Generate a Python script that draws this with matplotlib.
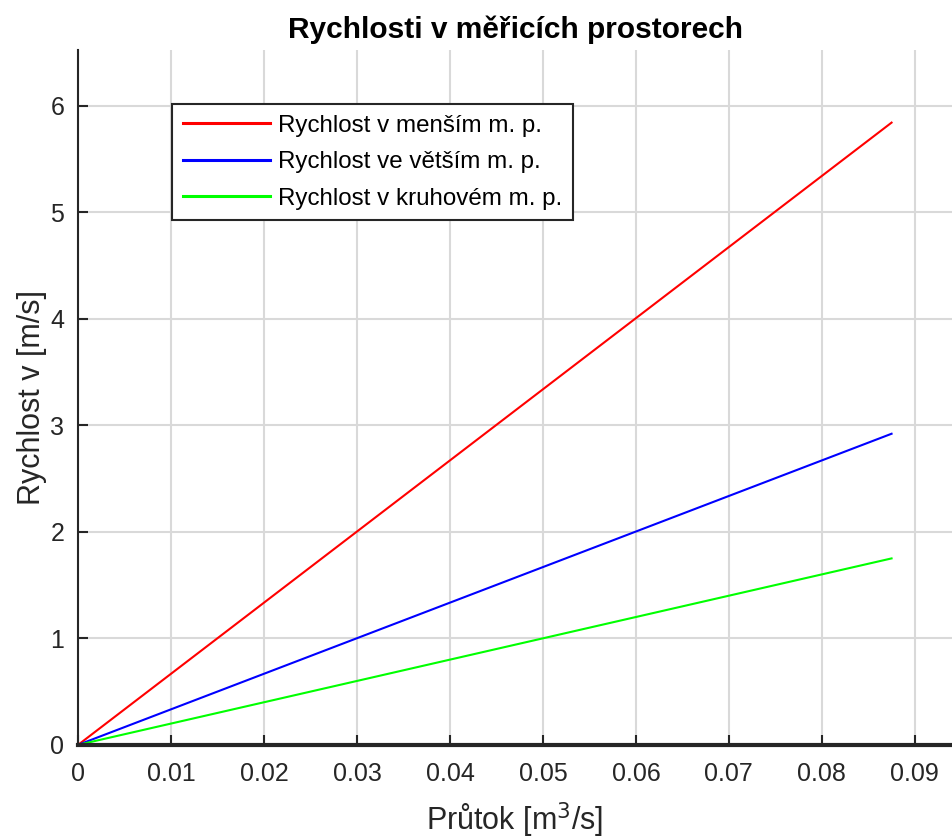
import matplotlib
matplotlib.use("Agg")
from matplotlib import pyplot as plt
import numpy as np

# data
prutok = [0.0, 0.0875]
v_mensi = [0.0, 5.84]
v_vetsi = [0.0, 2.92]
v_kruhovy = [0.0, 1.75]

labels = ['Rychlost v menším m. p.', 'Rychlost ve větším m. p.', 'Rychlost v kruhovém m. p.']
x_ticks = [0, 0.01, 0.02, 0.03, 0.04, 0.05, 0.06, 0.07, 0.08, 0.09]
y_ticks = [0, 1, 2, 3, 4, 5, 6]

plt.rcParams['font.family'] = ['Liberation Sans', 'DejaVu Sans']

fig = plt.figure(figsize=(9.52, 8.36), dpi=100)
ax = fig.add_axes([0.082, 0.109, 0.918, 0.831])

ax.plot(prutok, v_mensi, color=(1, 0, 0), lw=1.5, label=labels[0])
ax.plot(prutok, v_vetsi, color=(0, 0, 1), lw=1.5, label=labels[1])
ax.plot(prutok, v_kruhovy, color=(0, 1, 0), lw=1.5, label=labels[2])

ax.set_xlim(0, 0.094)
ax.set_ylim(0, 6.52)
ax.set_xticks(x_ticks)
ax.set_xticklabels(['0' if t == 0 else f'{t:.2f}' for t in x_ticks])
ax.set_yticks(y_ticks)

ax.grid(True, color=(0.85, 0.85, 0.85), lw=1.5)
ax.set_axisbelow(True)

for s in ['top', 'right']:
    ax.spines[s].set_visible(False)
ax.spines['left'].set_linewidth(1.5)
ax.spines['left'].set_color((0.15, 0.15, 0.15))
ax.spines['bottom'].set_linewidth(3)
ax.spines['bottom'].set_color((0.15, 0.15, 0.15))

ax.tick_params(direction='in', length=7, width=1.5, colors=(0.15, 0.15, 0.15),
               labelsize=18)
ax.tick_params(axis='y', pad=10)
ax.tick_params(axis='x', pad=12)

ax.set_title('Rychlosti v měřicích prostorech', fontsize=21.5, fontweight='bold', pad=9)
ax.set_xlabel('Průtok [m$^3$/s]', fontsize=22, color=(0.15, 0.15, 0.15), labelpad=11)
ax.set_ylabel('Rychlost v [m/s]', fontsize=22, color=(0.15, 0.15, 0.15), labelpad=2)

leg = ax.legend(loc='upper left', bbox_to_anchor=(0.1075, 0.923), fontsize=17.4,
                fancybox=False, framealpha=1, edgecolor=(0.15, 0.15, 0.15),
                handlelength=3.6, handletextpad=0.35, borderpad=0.45, labelspacing=0.6,
                borderaxespad=0)
leg.get_frame().set_linewidth(1.5)
for line in leg.get_lines():
    line.set_linewidth(2.2)

fig.savefig('out.png', dpi=100)
